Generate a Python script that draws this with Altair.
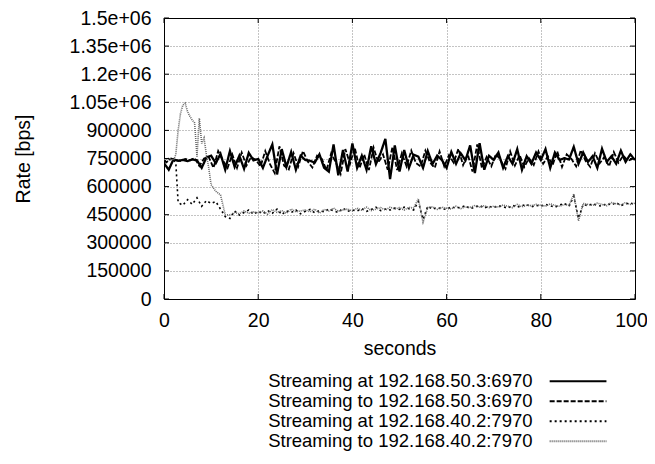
import altair as alt
import pandas as pd

FONT = "Liberation Sans"
FS = 19.5
LFS = 18.5

SERIES = [
    "Streaming at 192.168.50.3:6970",
    "Streaming to 192.168.50.3:6970",
    "Streaming at 192.168.40.2:7970",
    "Streaming to 192.168.40.2:7970",
]
COLORS = ["#000000", "#000000", "#000000", "#666666"]
DASHES = [[1, 0], [5, 2], [2, 3], [1, 1]]
WIDTHS = [2.3, 1.8, 1.6, 1.6]

X_TICKS = [0, 20, 40, 60, 80, 100]
Y_TICKS = [0, 150000, 300000, 450000, 600000, 750000, 900000, 1050000, 1200000, 1350000, 1500000]

# time grids (seconds)
SECONDS_AT_50 = list(range(0, 101))
SECONDS_TO_50 = [0] + [k + 0.5 for k in range(100)]

AT_50_KBPS = [
    725, 690, 745, 738, 742, 736, 745, 740, 700, 755,
    765, 725, 775, 690, 790, 705, 765, 695, 780, 740,
    748, 700, 765, 825, 665, 800, 705, 785, 690, 765,
    742, 738, 728, 772, 700, 680, 825, 660, 795, 680,
    830, 700, 765, 690, 815, 720, 780, 855, 640, 820,
    680, 795, 700, 770, 760, 700, 790, 720, 765, 742,
    700, 785, 722, 778, 740, 820, 672, 832, 690, 765,
    742, 782, 700, 762, 722, 800, 690, 762, 722, 782,
    742, 800, 700, 782, 742, 752, 745, 812, 722, 782,
    732, 762, 700, 802, 732, 762, 722, 792, 732, 772, 742,
]
TO_50_KBPS = [
    740, 730, 750, 742, 736, 748, 740, 752, 710, 750,
    758, 700, 790, 740, 700, 772, 700, 782, 712, 758,
    742, 708, 790, 720, 672, 815, 712, 692, 778, 708,
    790, 735, 702, 765, 748, 688, 778, 728, 668, 800,
    722, 808, 698, 772, 688, 808, 728, 772, 690, 812,
    688, 778, 708, 792, 725, 708, 792, 728, 700, 788,
    708, 768, 728, 802, 715, 772, 680, 825, 698, 758,
    708, 775, 738, 695, 788, 712, 768, 705, 752, 715,
    788, 722, 762, 715, 788, 705, 772, 748, 708, 795,
    738, 705, 778, 725, 758, 708, 785, 728, 765, 738, 748,
]

SECONDS_AT_40 = [0, 1, 2, 2.5, 3, 4, 5, 6, 7, 8, 9, 10, 11, 12, 13] + list(range(14, 101))
AT_40_KBPS = [
    735, 745, 740, 730, 515, 500, 530, 505, 540, 495, 525, 510, 520, 480, 440,
    430, 470, 448, 462, 475, 452,
    468, 455, 472, 458, 480, 450, 470, 462, 475, 455,
    468, 478, 460, 472, 465, 480, 470, 462, 485, 468,
    475, 470, 482, 468, 478, 490, 472, 480, 475, 485,
    478, 490, 482, 475, 520, 425, 495, 480, 488, 482,
    478, 492, 485, 490, 498, 482, 490, 500, 485, 495,
    488, 498, 492, 485, 500, 490, 498, 505, 492, 500,
    495, 505, 498, 490, 502, 510, 495, 548, 430, 505,
    498, 508, 500, 495, 510, 502, 515, 498, 508, 512, 505,
]

SECONDS_TO_40 = [0, 1, 2, 2.5, 3, 3.5, 4, 4.5, 5, 5.5, 6, 6.5, 7, 7.5, 8, 8.5, 9, 9.5,
                 10, 11, 12, 13] + list(range(14, 101))
TO_40_KBPS = [
    745, 750, 742, 770, 900, 990, 1035, 1045, 1000, 975, 955, 940, 760, 965, 830, 860,
    770, 700, 610, 575, 555, 450,
    448, 462, 455, 470, 458, 465,
    460, 470, 452, 478, 462, 472, 458, 480, 465, 470,
    475, 465, 480, 458, 478, 470, 485, 468, 475, 480,
    470, 485, 475, 490, 472, 480, 488, 475, 490, 480,
    488, 475, 490, 485, 535, 410, 488, 492, 478, 490,
    485, 480, 495, 482, 492, 488, 500, 490, 498, 488,
    495, 490, 502, 495, 488, 505, 492, 500, 498, 505,
    500, 495, 508, 500, 495, 505, 500, 560, 418, 510,
    505, 500, 512, 505, 498, 515, 508, 502, 515, 505, 512,
]

frames = []
for name, secs, vals, w in [
    (SERIES[0], SECONDS_AT_50, AT_50_KBPS, WIDTHS[0]),
    (SERIES[1], SECONDS_TO_50, TO_50_KBPS, WIDTHS[1]),
    (SERIES[2], SECONDS_AT_40, AT_40_KBPS, WIDTHS[2]),
    (SERIES[3], SECONDS_TO_40, TO_40_KBPS, WIDTHS[3]),
]:
    f = pd.DataFrame({"t": secs, "kbps": vals})
    f["rate"] = f["kbps"] * 1000
    f["series"] = name
    f["w"] = w
    frames.append(f)
df = pd.concat(frames, ignore_index=True)

W, H = 471, 281
TL = 5

x_scale = alt.Scale(domain=[0, 100], nice=False, zero=False)
y_scale = alt.Scale(domain=[0, 1500000], nice=False)

x_axis = alt.Axis(
    values=X_TICKS, ticks=False, domain=False, labelFlush=False, labelOverlap=False,
    labelFontSize=FS, labelFont=FONT, labelColor="black", labelPadding=12,
    labelOffset={"condition": {"test": "datum.value == 100", "value": -4}, "value": 0},
    titleFontSize=FS, titleFont=FONT, titleFontWeight="normal", titleColor="black", titlePadding=10,
    grid=True, gridColor="#888888", gridDash=[1, 2], gridWidth=1,
    gridOpacity={"condition": {"test": "datum.value == 0 || datum.value == 100", "value": 0}, "value": 1},
)
y_axis = alt.Axis(
    values=Y_TICKS, ticks=False, domain=False, labelFlush=False, labelOverlap=False,
    labelFontSize=FS, labelFont=FONT, labelColor="black", labelPadding=13,
    labelExpr="datum.value >= 1000000 ? replace(format(datum.value, '.3~e'), 'e+', 'e+0') : format(datum.value, 'd')",
    titleFontSize=FS, titleFont=FONT, titleFontWeight="normal", titleColor="black", titlePadding=36,
    grid=True, gridColor="#888888", gridDash=[1, 2], gridWidth=1,
    gridOpacity={"condition": {"test": "datum.value == 0 || datum.value == 1500000", "value": 0}, "value": 1},
)

legend = alt.Legend(
    title=None, orient="none", legendX=350, legendY=354, padding=0,
    symbolType="M3.3,0H10.4", symbolSize=256, symbolStrokeWidth=1.8,
    labelAlign="right", labelOffset=0, labelFontSize=LFS, labelFont=FONT,
    labelColor="black", labelLimit=500, rowPadding=1,
)

lines = alt.Chart(df).mark_line(clip=True).encode(
    x=alt.X("t:Q", scale=x_scale, axis=x_axis, title="seconds"),
    y=alt.Y("rate:Q", scale=y_scale, axis=y_axis, title="Rate [bps]"),
    color=alt.Color("series:N", scale=alt.Scale(domain=SERIES, range=COLORS), legend=legend),
    strokeDash=alt.StrokeDash("series:N", scale=alt.Scale(domain=SERIES, range=DASHES), legend=legend),
    strokeWidth=alt.StrokeWidth("w:Q", scale=None, legend=None),
)

xt = pd.DataFrame({"t": X_TICKS})
yt = pd.DataFrame({"rate": Y_TICKS})
X_ENC = alt.X("t:Q", scale=x_scale, axis=x_axis, title="seconds")
Y_ENC = alt.Y("rate:Q", scale=y_scale, axis=y_axis, title="Rate [bps]")
xb = alt.Chart(xt).mark_rule(color="black").encode(x=X_ENC, y=alt.value(H), y2=alt.value(H - TL))
xtop = alt.Chart(xt).mark_rule(color="black").encode(x=X_ENC, y=alt.value(0), y2=alt.value(TL))
yl = alt.Chart(yt).mark_rule(color="black").encode(y=Y_ENC, x=alt.value(0), x2=alt.value(TL))
yr = alt.Chart(yt).mark_rule(color="black").encode(y=Y_ENC, x=alt.value(W), x2=alt.value(W - TL))

chart = alt.layer(lines, xb, xtop, yl, yr).properties(
    width=W, height=H,
    padding={"left": 156, "top": 10, "right": 12, "bottom": 153},
    autosize=alt.AutoSizeParams(type="none"),
).configure_view(stroke="black", strokeWidth=1).configure_axis(
    labelOverlap=False, labelFlush=False, gridDash=[1, 2], gridColor="#888888",
)

chart.save("out.html", embed_options={"renderer": "svg", "actions": False})
